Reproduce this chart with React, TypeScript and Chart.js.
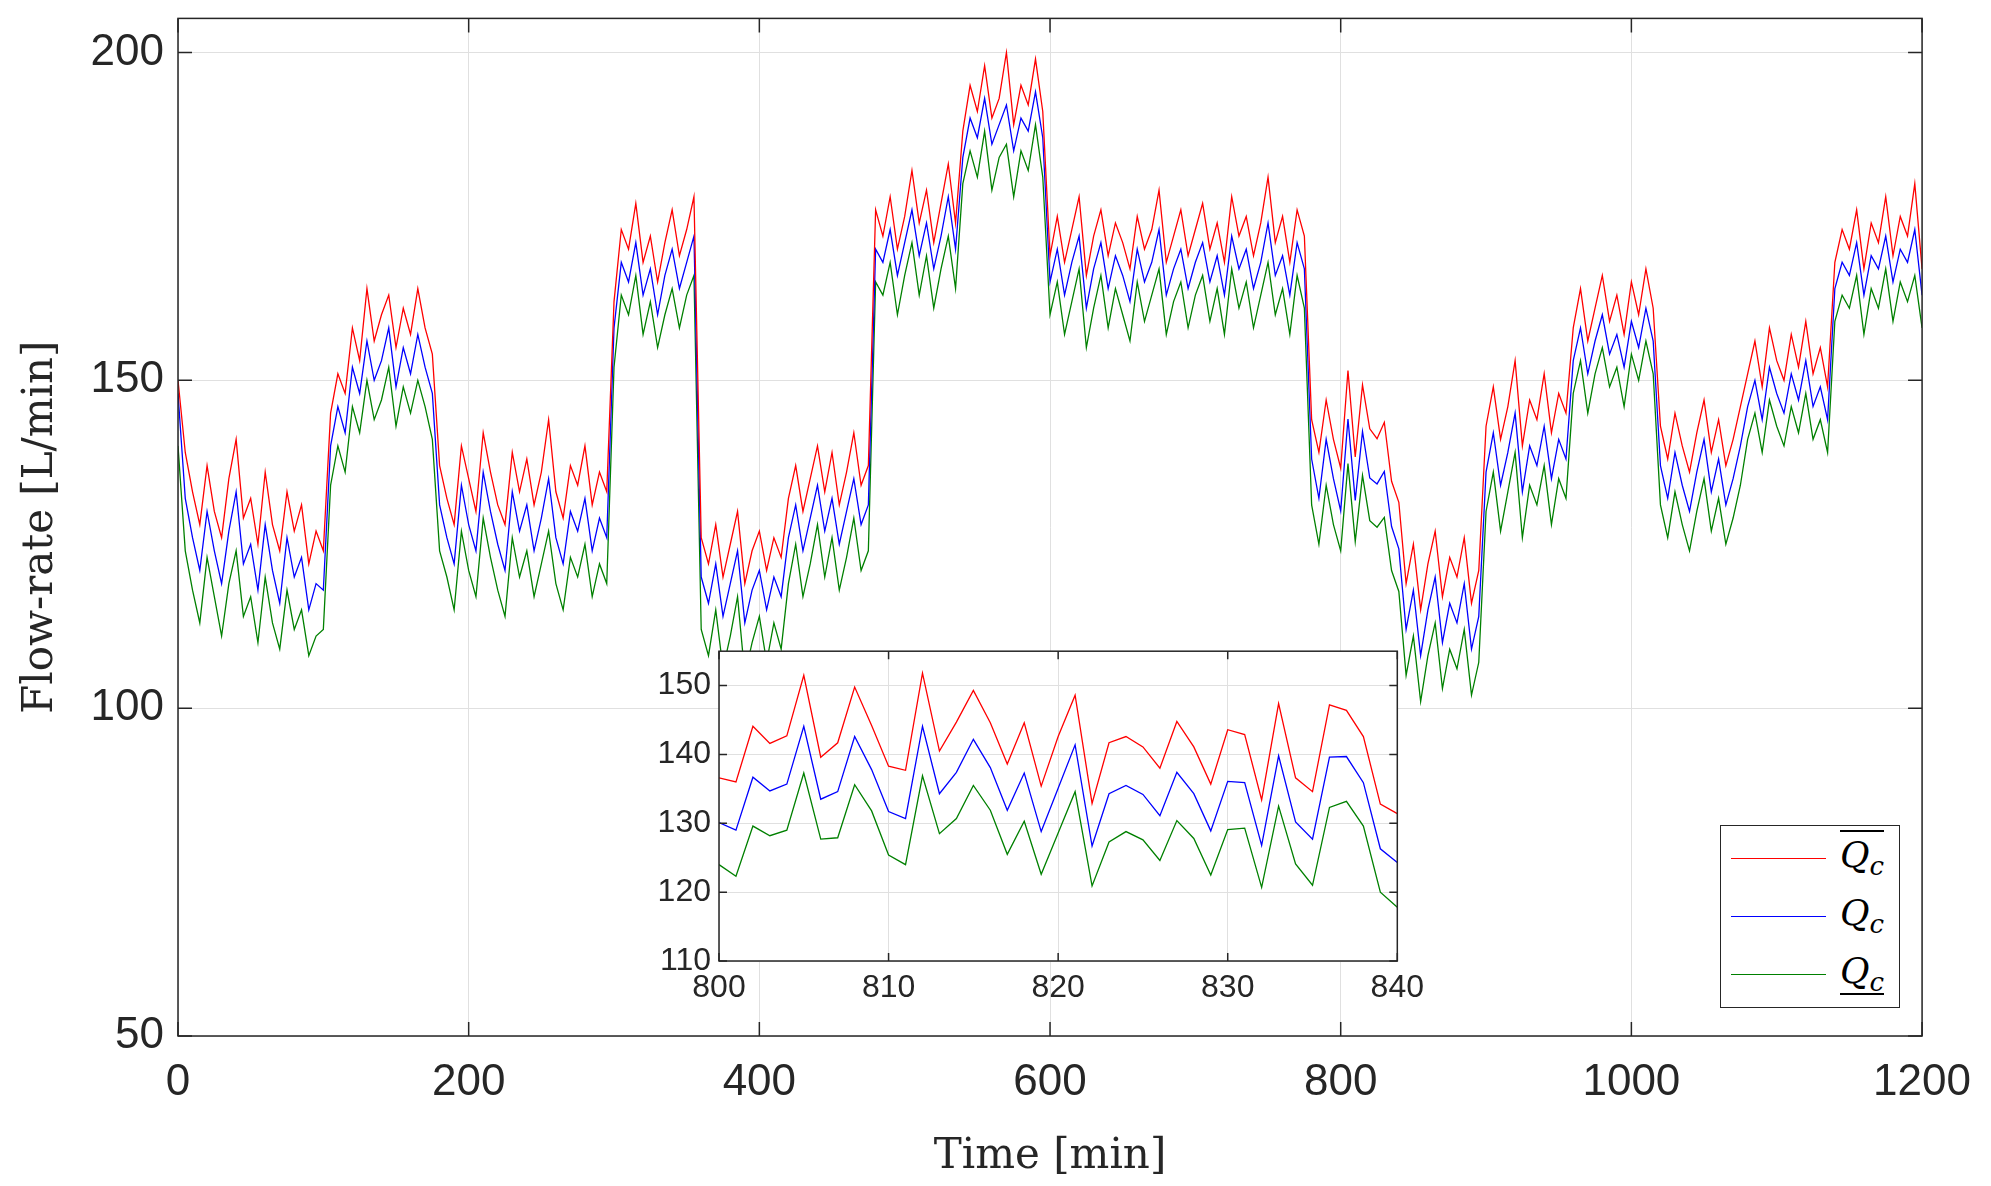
import React, { useEffect, useRef } from 'react';
import Chart from 'chart.js/auto';

// 5-minute samples, t = 0..1200
const blue = [
  148,132,126,121,130,124,119,127,133,122,125,118,128,121,116,126,120,123,115,119,
  118,140,146,142,152,148,156,150,153,158,149,155,151,157,152,148,
  131,126,122,134,128,124,136,130,125,121,133,127,131,124,129,135,126,122,130,127,132,124,129,126,
  158,168,165,171,163,167,160,166,170,164,168,172,
  120,116,122,114,119,124,113,118,121,115,120,117,
  126,131,124,129,134,127,132,125,130,135,128,131,
  170,168,173,166,171,176,169,174,167,172,178,170,
  184,190,187,193,186,189,192,185,190,188,194,187,
  165,170,163,168,172,161,167,171,164,169,166,162,170,165,168,173,163,167,170,164,168,171,165,169,163,172,167,170,164,168,174,166,169,163,171,167,
  138,132,141,135,130.1,144.1,131.7,142.2,135.1,134.2,136.1,127.7,
  124.3,112,118,108,115,120,110,116,113,119,109,114,
  136,142,134,139,145,133,140,137,143,135,141,138,
  153,158,151,156,160,154,157,152,159,155,161,156,
  137,132,139,134,130,136,141,133,138,131,135,140,
  146,150,144,152,148,145,151,147,153,146,149,144,
  164,168,166,171,163,169,167,172,165,170,168,173,163,
];
const red = [
  150,139,133,128,137,130,126,135,141,129,132,125,136,128,124,133,127,131,122,127,
  124,145,151,148,158,153,164,156,160,163,155,161,157,164,158,154,
  137,132,128,140,135,130,142,136,131,128,139,133,138,131,136,144,133,129,137,134,140,131,136,133,
  162,173,170,177,168,172,165,171,176,169,173,178,
  126,122,128,120,125,130,119,124,127,121,126,123,
  132,137,130,135,140,133,139,131,136,142,134,137,
  176,172,178,170,175,182,174,179,171,177,183,174,
  188,195,191,198,190,193,200,189,195,192,199,191,
  169,175,168,173,178,166,172,176,169,174,171,167,175,170,173,179,168,172,176,169,173,177,170,174,168,178,172,175,169,174,181,171,175,168,176,172,
  144,139,147,141,136.6,151.5,138.3,149.3,142.6,141.1,143.6,134.6,
  131.4,119,125,115,122,127,117,123,120,126,116,121,
  143,149,141,146,153,140,147,144,151,142,148,145,
  158,164,156,161,166,159,163,157,165,160,167,161,
  143,138,145,140,136,142,147,139,144,137,141,146,
  151,156,149,158,153,150,157,152,159,151,155,149,
  168,173,170,176,167,174,171,178,169,175,172,180,167,
];
const green = [
  140,124,118,113,123,117,111,119,124,114,117,110,120,113,109,118,112,115,108,111,
  112,134,140,136,146,142,150,144,147,152,143,149,145,150,146,141,
  124,120,115,127,121,117,129,123,118,114,126,120,124,117,122,127,119,115,123,120,125,117,122,119,
  152,163,160,166,157,162,155,160,164,158,163,166,
  112,108,115,106,111,117,105,110,114,107,113,109,
  119,125,117,122,128,120,126,118,123,129,121,124,
  165,163,168,160,166,171,163,169,161,167,172,164,
  180,185,181,188,179,184,186,178,185,182,189,181,
  160,165,157,162,167,155,161,166,158,164,160,156,165,159,163,167,157,162,165,158,163,166,159,164,157,167,161,165,158,163,168,160,164,157,166,161,
  131,125,134,128,124,137.3,125.4,135.5,128.6,127.6,129.1,121,
  117.8,105,111,101,108,113,103,109,106,112,102,107,
  130,136,127,133,139,126,134,131,137,128,135,132,
  148,153,145,151,155,149,152,146,154,150,156,151,
  131,126,133,128,124,130,135,127,132,125,129,134,
  141,145,139,147,143,140,146,142,148,141,144,139,
  159,163,161,166,157,164,161,167,159,165,162,166,158,
];
const times = blue.map((_, i) => i * 5);

// inset: 1-minute samples, t = 800..840
const insetTimes = Array.from({ length: 41 }, (_, i) => 800 + i);
const insetRed = [136.6,136.0,144.1,141.6,142.7,151.5,139.6,141.7,149.8,144.2,138.3,137.7,151.8,140.5,144.7,149.3,144.6,138.6,144.6,135.4,142.6,148.6,132.9,141.7,142.6,141.1,138.0,144.8,141.1,135.7,143.6,142.9,133.4,147.4,136.6,134.6,147.2,146.4,142.6,132.8,131.4];
const insetBlue = [130.1,129.0,136.7,134.7,135.7,144.1,133.5,134.6,142.6,137.8,131.7,130.7,144.1,134.3,137.4,142.2,138.1,131.9,137.3,128.8,135.1,141.4,126.7,134.3,135.5,134.2,131.1,137.4,134.3,128.9,136.1,135.9,126.8,139.8,130.2,127.7,139.6,139.7,135.9,126.3,124.3];
const insetGreen = [124.0,122.3,129.6,128.2,129.0,137.3,127.7,127.9,135.6,131.8,125.4,124.0,136.9,128.5,130.7,135.5,131.9,125.5,130.3,122.6,128.6,134.6,120.9,127.3,128.8,127.6,124.6,130.4,127.8,122.5,129.1,129.3,120.7,132.5,124.1,121.0,132.3,133.2,129.6,120.0,117.8];

const mainYTicks = [50, 100, 150, 200];
const insetYTicks = [110, 120, 130, 140, 150];

const RED = '#ff0000';
const BLUE = '#0000ff';
const GREEN = '#008000';

const boxPlugin = (tickLen: number, fill: boolean) => ({
  id: 'box',
  beforeDraw(chart: any) {
    if (!fill) return;
    const { ctx, chartArea: a } = chart;
    ctx.save();
    ctx.fillStyle = '#fff';
    ctx.fillRect(a.left, a.top, a.right - a.left, a.bottom - a.top);
    ctx.restore();
  },
  afterDraw(chart: any) {
    const { ctx, chartArea: a, scales } = chart;
    ctx.save();
    ctx.strokeStyle = '#262626';
    ctx.lineWidth = 1.5;
    ctx.strokeRect(a.left, a.top, a.right - a.left, a.bottom - a.top);
    ctx.beginPath();
    scales.x.ticks.forEach((t: any) => {
      const px = scales.x.getPixelForValue(t.value);
      ctx.moveTo(px, a.bottom); ctx.lineTo(px, a.bottom - tickLen);
      ctx.moveTo(px, a.top); ctx.lineTo(px, a.top + tickLen);
    });
    scales.y.ticks.forEach((t: any) => {
      const py = scales.y.getPixelForValue(t.value);
      ctx.moveTo(a.left, py); ctx.lineTo(a.left + tickLen, py);
      ctx.moveTo(a.right, py); ctx.lineTo(a.right - tickLen, py);
    });
    ctx.stroke();
    ctx.restore();
  },
});

const line = (label: string, xs: number[], ys: number[], color: string) => ({
  label,
  data: xs.map((x, i) => ({ x, y: ys[i] })),
  borderColor: color,
  borderWidth: 1.3,
  pointRadius: 0,
  tension: 0,
});

const tickFont = { family: 'Liberation Sans, Arial, sans-serif' };
const plain = (v: any) => String(v);

const App = () => {
  const mainRef = useRef<HTMLCanvasElement>(null);
  const insetRef = useRef<HTMLCanvasElement>(null);

  useEffect(() => {
    document.body.style.margin = '0';
    const main = new Chart(mainRef.current as any, {
      type: 'line',
      data: {
        datasets: [
          line('Qc upper', times, red, RED),
          line('Qc', times, blue, BLUE),
          line('Qc lower', times, green, GREEN),
        ],
      },
      plugins: [boxPlugin(14, false)],
      options: {
        animation: false,
        responsive: false,
        layout: { padding: { left: 12, right: 58, top: 2, bottom: 0 } },
        plugins: { legend: { display: false }, tooltip: { enabled: false } },
        scales: {
          x: {
            type: 'linear', min: 0, max: 1200,
            ticks: { stepSize: 200, callback: plain, color: '#262626', font: { ...tickFont, size: 44 }, maxRotation: 0, padding: 20 },
            grid: { color: '#e0e0e0', drawTicks: false },
            border: { display: false },
            title: { display: true, text: 'Time [min]', color: '#262626', font: { family: 'DejaVu Serif, serif', size: 42 }, padding: { top: 0 } },
            afterFit: (s: any) => { s.height = 150; },
          },
          y: {
            min: 50, max: 205.2,
            afterBuildTicks: (s: any) => { s.ticks = mainYTicks.map((v) => ({ value: v })); },
            ticks: { color: '#262626', font: { ...tickFont, size: 44 }, padding: 14 },
            grid: { color: '#e0e0e0', drawTicks: false },
            border: { display: false },
            title: { display: true, text: 'Flow-rate [L/min]', color: '#262626', font: { family: 'DejaVu Serif, serif', size: 42 }, padding: { bottom: 0 } },
            afterFit: (s: any) => { s.width = 166; },
          },
        },
      },
    });
    const inset = new Chart(insetRef.current as any, {
      type: 'line',
      data: {
        datasets: [
          line('Qc upper', insetTimes, insetRed, RED),
          line('Qc', insetTimes, insetBlue, BLUE),
          line('Qc lower', insetTimes, insetGreen, GREEN),
        ],
      },
      plugins: [boxPlugin(8, true)],
      options: {
        animation: false,
        responsive: false,
        layout: { padding: { left: 0, right: 20, top: 10, bottom: 0 } },
        plugins: { legend: { display: false }, tooltip: { enabled: false } },
        scales: {
          x: {
            type: 'linear', min: 800, max: 840,
            ticks: { stepSize: 10, callback: plain, color: '#262626', font: { ...tickFont, size: 32 }, maxRotation: 0, padding: 8 },
            grid: { color: '#e0e0e0', drawTicks: false },
            border: { display: false },
            afterFit: (s: any) => { s.height = 50; },
          },
          y: {
            min: 110, max: 155,
            afterBuildTicks: (s: any) => { s.ticks = insetYTicks.map((v) => ({ value: v })); },
            ticks: { color: '#262626', font: { ...tickFont, size: 32 }, padding: 8 },
            grid: { color: '#e0e0e0', drawTicks: false },
            border: { display: false },
            afterFit: (s: any) => { s.width = 64; },
          },
        },
      },
    });
    return () => {
      main.destroy();
      inset.destroy();
    };
  }, []);

  const q = { fontFamily: 'DejaVu Serif, serif', fontStyle: 'italic', fontSize: 36, color: '#000', lineHeight: 1 } as const;
  const row = (color: string, deco: 'over' | 'none' | 'under') => (
    <div style={{ display: 'flex', alignItems: 'center', height: 58 }}>
      <div style={{ width: 95, height: 0, borderTop: `1.5px solid ${color}`, marginLeft: 10, marginRight: 14 }} />
      <span style={{ ...q, position: 'relative', paddingTop: 4, paddingBottom: 4 }}>
        <span style={{ borderTop: deco === 'over' ? '2px solid #000' : 'none', borderBottom: deco === 'under' ? '2px solid #000' : 'none', padding: '2px 0' }}>
          Q<sub style={{ fontSize: 26 }}>c</sub>
        </span>
      </span>
    </div>
  );

  return (
    <div style={{ position: 'relative', width: 1991, height: 1186, background: '#fff', overflow: 'hidden' }}>
      <canvas ref={mainRef} width={1991} height={1208} style={{ position: 'absolute', left: 0, top: -22 }} />
      <canvas ref={insetRef} width={777} height={387} style={{ position: 'absolute', left: 655, top: 624 }} />
      <div style={{ position: 'absolute', left: 1720, top: 825, width: 178, height: 181, border: '1.5px solid #262626', background: '#fff', display: 'flex', flexDirection: 'column', justifyContent: 'center' }}>
        {row(RED, 'over')}
        {row(BLUE, 'none')}
        {row(GREEN, 'under')}
      </div>
    </div>
  );
};

export default App;
